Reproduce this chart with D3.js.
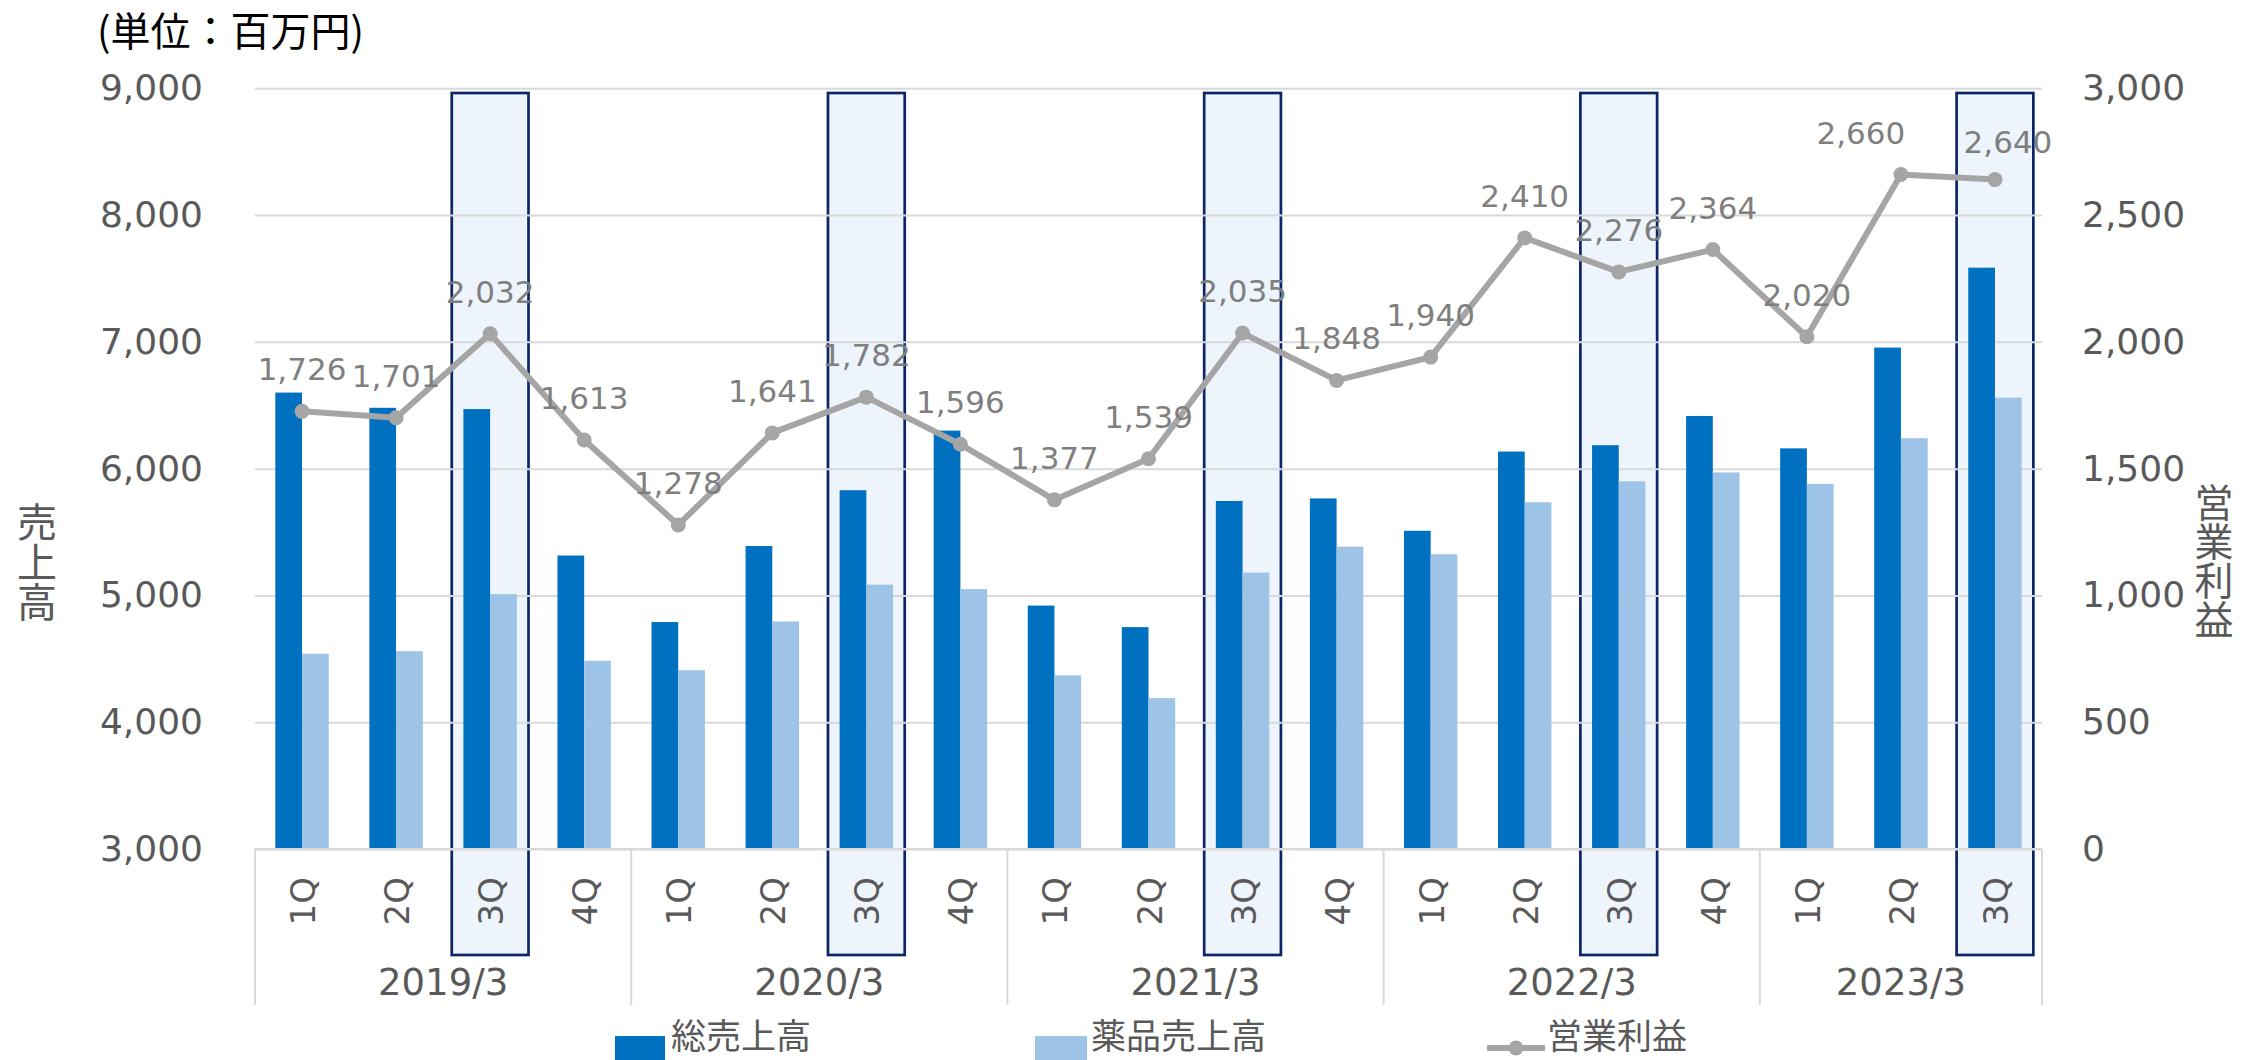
<!DOCTYPE html>
<html>
<head>
<meta charset="utf-8">
<script src="https://cdn.jsdelivr.net/npm/d3@7"></script>
<style>
  body { margin: 0; background: #fff; }
  svg { display: block; }
</style>
</head>
<body>
<svg width="2244" height="1060"></svg>
<script>
// data
const periods = ["2019/3","2019/3","2019/3","2019/3","2020/3","2020/3","2020/3","2020/3",
  "2021/3","2021/3","2021/3","2021/3","2022/3","2022/3","2022/3","2022/3","2023/3","2023/3","2023/3"];
const quarters = ["1Q","2Q","3Q","4Q","1Q","2Q","3Q","4Q","1Q","2Q","3Q","4Q","1Q","2Q","3Q","4Q","1Q","2Q","3Q"];
const years = ["2019/3","2020/3","2021/3","2022/3","2023/3"];
const totalSales = [6600,6480,6470,5315,4790,5390,5830,6300,4920,4750,5745,5765,5510,6135,6185,6415,6160,6955,7585];
const drugSales  = [4540,4560,5010,4485,4410,4795,5085,5050,4370,4190,5180,5385,5325,5735,5900,5970,5880,6240,6560];
const profit     = [1726,1701,2032,1613,1278,1641,1782,1596,1377,1539,2035,1848,1940,2410,2276,2364,2020,2660,2640];
const leftTicks  = [3000,4000,5000,6000,7000,8000,9000];
const rightTicks = [0,500,1000,1500,2000,2500,3000];
const seriesNames = ["総売上高","薬品売上高","営業利益"];

const svg = d3.select("svg");
const NUM = "DejaVu Sans";
const JP = "'Noto Sans CJK JP', 'Noto Sans', sans-serif";

const keys = periods.map((p, i) => p + " " + quarters[i]);
const plotL = 255, plotR = 2042, plotT = 88.3, plotB = 849;

const x = d3.scaleBand().domain(keys).range([plotL, plotR]).paddingInner(0).paddingOuter(0);
const xSub = d3.scaleBand().domain(["total", "drug"]).range([0, x.bandwidth()]).paddingInner(0).paddingOuter(0.76);
const yLeft = d3.scaleLinear().domain([3000, 9000]).range([plotB, plotT]);
const yRight = d3.scaleLinear().domain([0, 3000]).range([plotB, plotT]);
const cx = k => x(k) + x.bandwidth() / 2;

// highlight boxes on each 3Q
svg.append("g").selectAll("rect")
  .data(keys.filter((k, i) => quarters[i] === "3Q"))
  .join("rect")
  .attr("x", k => cx(k) - x.bandwidth() * 0.408)
  .attr("width", x.bandwidth() * 0.816)
  .attr("y", 93)
  .attr("height", 955 - 93)
  .attr("fill", "#EDF4FB")
  .attr("stroke", "#0B2566")
  .attr("stroke-width", 2.7);

// gridlines
const grid = svg.append("g")
  .attr("transform", `translate(${plotL},0)`)
  .call(d3.axisLeft(yLeft).tickValues(leftTicks).tickSize(-(plotR - plotL)).tickFormat(""));
grid.select(".domain").remove();
grid.selectAll("line").attr("stroke", "#D9D9D9").attr("stroke-width", 2);

// left axis labels
const ax1 = svg.append("g")
  .attr("transform", "translate(203,0)")
  .call(d3.axisLeft(yLeft).tickValues(leftTicks).tickSize(0).tickPadding(0).tickFormat(d3.format(",")));
ax1.select(".domain").remove();
ax1.selectAll("text").attr("font-family", NUM).attr("font-size", 36).attr("fill", "#595959");

// right axis labels
const ax2 = svg.append("g")
  .attr("transform", "translate(2082,0)")
  .call(d3.axisRight(yRight).tickValues(rightTicks).tickSize(0).tickPadding(0).tickFormat(d3.format(",")));
ax2.select(".domain").remove();
ax2.selectAll("text").attr("font-family", NUM).attr("font-size", 36).attr("fill", "#595959");

// bars
svg.append("g").selectAll("rect")
  .data(keys)
  .join("rect")
  .attr("x", k => x(k) + xSub("total"))
  .attr("width", xSub.bandwidth())
  .attr("y", (k, i) => yLeft(totalSales[i]))
  .attr("height", (k, i) => plotB - yLeft(totalSales[i]))
  .attr("fill", "#0070C0");

svg.append("g").selectAll("rect")
  .data(keys)
  .join("rect")
  .attr("x", k => x(k) + xSub("drug"))
  .attr("width", xSub.bandwidth())
  .attr("y", (k, i) => yLeft(drugSales[i]))
  .attr("height", (k, i) => plotB - yLeft(drugSales[i]))
  .attr("fill", "#9DC3E6");

// category axis lines
svg.append("line")
  .attr("x1", plotL).attr("x2", plotR).attr("y1", plotB).attr("y2", plotB)
  .attr("stroke", "#D9D9D9").attr("stroke-width", 2);

const groupStarts = years.map(y => keys[periods.indexOf(y)]);
const seps = groupStarts.map(k => x(k)).concat([plotR]);
svg.append("g").selectAll("line")
  .data(seps)
  .join("line")
  .attr("x1", d => d).attr("x2", d => d)
  .attr("y1", plotB).attr("y2", 1005)
  .attr("stroke", "#D9D9D9").attr("stroke-width", 2);

// quarter labels (rotated)
svg.append("g").selectAll("text")
  .data(keys)
  .join("text")
  .attr("transform", k => `translate(${cx(k) + 13},877) rotate(-90)`)
  .attr("text-anchor", "end")
  .attr("font-family", NUM)
  .attr("font-size", 34)
  .attr("fill", "#595959")
  .text((k, i) => quarters[i]);

// fiscal year labels
svg.append("g").selectAll("text")
  .data(years)
  .join("text")
  .attr("x", y => {
    const ks = keys.filter((k, i) => periods[i] === y);
    return (x(ks[0]) + x(ks[ks.length - 1]) + x.bandwidth()) / 2;
  })
  .attr("y", 995)
  .attr("text-anchor", "middle")
  .attr("font-family", NUM)
  .attr("font-size", 37)
  .attr("fill", "#595959")
  .text(y => y);

// operating profit line
const line = d3.line().x(k => cx(k)).y((k, i) => yRight(profit[i]));
svg.append("path")
  .datum(keys)
  .attr("d", line)
  .attr("fill", "none")
  .attr("stroke", "#A5A5A5")
  .attr("stroke-width", 6)
  .attr("stroke-linejoin", "round");

svg.append("g").selectAll("circle")
  .data(keys)
  .join("circle")
  .attr("cx", k => cx(k))
  .attr("cy", (k, i) => yRight(profit[i]))
  .attr("r", 7.5)
  .attr("fill", "#A5A5A5");

// data labels (two were nudged by hand in the original)
const labelDx = k => k === "2023/3 2Q" ? -40 : k === "2023/3 3Q" ? 13 : 0;
const labelDy = k => k === "2023/3 3Q" ? -27 : -31;
svg.append("g").selectAll("text")
  .data(keys)
  .join("text")
  .attr("x", k => cx(k) + labelDx(k))
  .attr("y", (k, i) => yRight(profit[i]) + labelDy(k))
  .attr("text-anchor", "middle")
  .attr("font-family", NUM)
  .attr("font-size", 31)
  .attr("fill", "#7F7F7F")
  .text((k, i) => d3.format(",")(profit[i]));

// unit note
svg.append("text")
  .attr("x", 97).attr("y", 46)
  .attr("font-family", JP)
  .attr("font-size", 40)
  .attr("fill", "#000")
  .text("(単位：百万円)");

// vertical axis titles
svg.append("text")
  .attr("x", 37).attr("y", 562)
  .attr("writing-mode", "vertical-rl")
  .attr("text-anchor", "middle")
  .attr("font-family", JP)
  .attr("font-size", 40)
  .attr("fill", "#595959")
  .text("売上高");

svg.append("text")
  .attr("x", 2214).attr("y", 561)
  .attr("writing-mode", "vertical-rl")
  .attr("text-anchor", "middle")
  .attr("font-family", JP)
  .attr("font-size", 39)
  .attr("fill", "#595959")
  .text("営業利益");

// legend
const leg = svg.append("g");
leg.append("rect").attr("x", 615).attr("y", 1036).attr("width", 50).attr("height", 50).attr("fill", "#0070C0");
leg.append("rect").attr("x", 1035).attr("y", 1036).attr("width", 52).attr("height", 50).attr("fill", "#9DC3E6");
leg.append("line").attr("x1", 1487).attr("x2", 1545).attr("y1", 1048).attr("y2", 1048)
  .attr("stroke", "#A5A5A5").attr("stroke-width", 6);
leg.append("circle").attr("cx", 1516).attr("cy", 1048).attr("r", 7.5).attr("fill", "#A5A5A5");
leg.selectAll("text")
  .data(seriesNames)
  .join("text")
  .attr("x", (d, i) => [671, 1091, 1547][i])
  .attr("y", 1049)
  .attr("font-family", JP)
  .attr("font-size", 35)
  .attr("fill", "#595959")
  .text(d => d);
</script>
</body>
</html>
